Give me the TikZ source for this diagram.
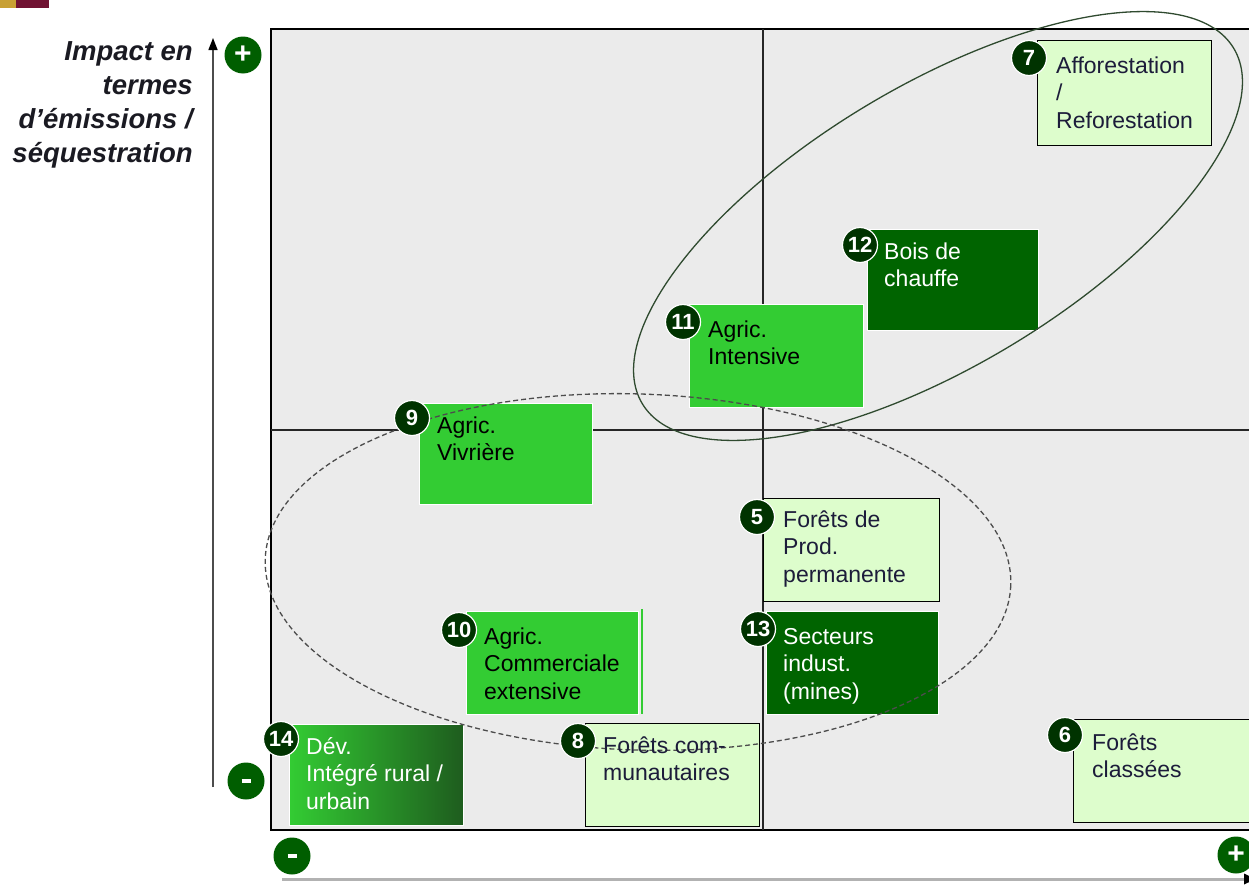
\documentclass[tikz,border=0pt]{standalone}
\usepackage{fontspec}
\setmainfont{Liberation Sans}
\usetikzlibrary{arrows.meta}
\definecolor{panel}{HTML}{EBEBEB}
\definecolor{lgreen}{HTML}{DDFDCC}
\definecolor{mgreen}{HTML}{33CC33}
\definecolor{dgreen}{HTML}{006400}
\definecolor{gradend}{HTML}{1E5C1E}
\definecolor{numgreen}{HTML}{003300}
\definecolor{signgreen}{HTML}{005E00}
\definecolor{inktext}{HTML}{1C1C3A}
\definecolor{labeltext}{HTML}{1A1A22}
\definecolor{gold}{HTML}{C8A034}
\definecolor{maroon}{HTML}{701232}
\definecolor{ringline}{HTML}{2F4A2F}
\tikzset{
  lbox/.style={draw=black, line width=1.3pt, fill=lgreen, inner sep=0pt, anchor=north west},
  gbox/.style={draw=white, line width=1pt, fill=mgreen, inner sep=0pt, anchor=north west},
  dbox/.style={draw=white, line width=1pt, fill=dgreen, inner sep=0pt, anchor=north west},
  numdisc/.style={circle, fill=numgreen, draw=white, line width=1.2pt, minimum size=35pt,
    inner sep=0pt, text=white, font=\fontsize{22}{22}\selectfont\bfseries},
  signdisc/.style={circle, fill=signgreen, minimum size=37pt, inner sep=0pt, text=white,
    font=\fontsize{30}{30}\selectfont\bfseries},
  boxtext/.style={anchor=north west, inner sep=0pt, align=left,
    font=\fontsize{23}{27.5}\selectfont},
}
\newcommand{\fl}{\rule{0pt}{17pt}}
\newcommand{\minusbar}{\rule{9pt}{4.5pt}}
\begin{document}
\begin{tikzpicture}[x=1pt,y=-1pt]
\useasboundingbox (0,0) rectangle (1249,886);

% corner bar
\fill[gold] (0,0) rectangle (16,8);
\fill[maroon] (16,0) rectangle (49,8);

% plotting panel and quadrant dividers
\draw[fill=panel, line width=1.5pt] (271,29) rectangle (1256,830);
\draw[line width=1.2pt, black!85] (763,29) -- (763,830);
\draw[line width=1.2pt, black!85] (271,430) -- (1256,430);

% axes
\coordinate (ybot) at (213,787);
\coordinate (ytop) at (213,38);
\coordinate (xleft) at (282,879);
\coordinate (xright) at (1256,879);
\draw[line width=1.4pt, black!70, -{Triangle[length=12pt,width=9pt,color=black]}] (ybot) -- (ytop);
\draw[line width=3pt, black!30, -{Triangle[length=12pt,width=10pt,color=black]}] (xleft) -- (xright);

\node[signdisc] (yplus) at (243,55) {+};
\node[signdisc] (yminus) at (246,781) {\minusbar};
\node[signdisc] (xminus) at (292,856) {\minusbar};
\node[signdisc] (xplus) at (1236,855) {+};

% axis title
\node[anchor=north east, inner sep=0pt, align=right, text=labeltext,
      font=\fontsize{27.5}{34}\selectfont\bfseries\itshape] (ylabel) at (193,40)
  {\rule{0pt}{20pt}Impact en\\termes\\d’émissions /\\séquestration};

% boxes
\node[lbox, minimum width=174pt, minimum height=105pt] (b7) at (1037,40) {};
\node[dbox, minimum width=171pt, minimum height=101pt] (b12) at (867,229) {};
\node[gbox, minimum width=174pt, minimum height=103pt] (b11) at (689,304) {};
\node[gbox, minimum width=173pt, minimum height=101pt] (b9) at (419,403) {};
\node[lbox, minimum width=176pt, minimum height=103pt] (b5) at (763,498) {};
\node[gbox, minimum width=172pt, minimum height=103pt] (b10) at (466,611) {};
\draw[mgreen, line width=1.5pt] (b10.north east) ++(3,-2) coordinate (e10a) (e10a) -- ++(0,105) coordinate (e10b);
\node[dbox, minimum width=172pt, minimum height=103pt] (b13) at (766,611) {};
\node[draw=white, line width=1pt, left color=mgreen, right color=gradend, inner sep=0pt,
      anchor=north west, minimum width=174pt, minimum height=101pt] (b14) at (289,724) {};
\node[lbox, minimum width=174pt, minimum height=103pt] (b8) at (585,723) {};
\node[lbox, minimum width=183pt, minimum height=103pt] (b6) at (1073,719) {};

% groupings
\draw[ringline, line width=1.3pt, rotate around={31:(938,226)}]
  (938,226) ellipse [x radius=345, y radius=140];
\draw[black!70, line width=1.3pt, dash pattern=on 5pt off 3pt, rotate around={-2:(638,572)}]
  (638,572) ellipse [x radius=373, y radius=178];

% box labels
\node[boxtext, text=inktext] (t7) at (1056,56) {\fl Afforestation\\/\\Reforestation};
\node[boxtext, text=white] (t12) at (884,242) {\fl Bois de\\chauffe};
\node[boxtext, text=black] (t11) at (708,320) {\fl Agric.\\Intensive};
\node[boxtext, text=black] (t9) at (437,416) {\fl Agric.\\Vivrière};
\node[boxtext, text=inktext] (t5) at (783,510) {\fl Forêts de\\Prod.\\permanente};
\node[boxtext, text=black] (t10) at (484,627) {\fl Agric.\\Commerciale\\extensive};
\node[boxtext, text=white] (t13) at (783,627) {\fl Secteurs\\indust.\\(mines)};
\node[boxtext, text=white] (t14) at (306,737) {\fl Dév.\\Intégré rural /\\urbain};
\node[boxtext, text=inktext] (t8) at (603,736) {\fl Forêts com-\\munautaires};
\node[boxtext, text=inktext] (t6) at (1092,733) {\fl Forêts\\classées};

% number discs
\node[numdisc] (n7) at (1029,58) {7};
\node[numdisc] (n12) at (860,245) {12};
\node[numdisc] (n11) at (683,322) {11};
\node[numdisc] (n9) at (412,418) {9};
\node[numdisc] (n5) at (757,517) {5};
\node[numdisc] (n10) at (459,630) {10};
\node[numdisc] (n13) at (758,629) {13};
\node[numdisc] (n14) at (281,739) {14};
\node[numdisc] (n8) at (578,741) {8};
\node[numdisc] (n6) at (1065,735) {6};
\end{tikzpicture}
\end{document}
